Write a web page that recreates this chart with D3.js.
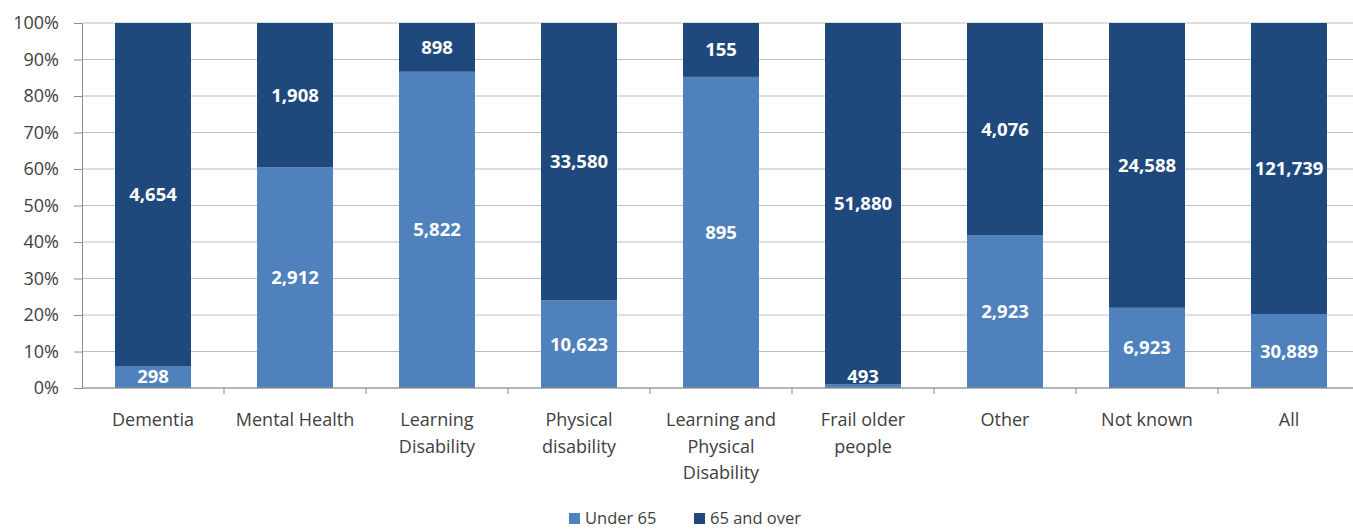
<!DOCTYPE html>
<html>
<head>
<meta charset="utf-8">
<script src="https://cdn.jsdelivr.net/npm/d3@7"></script>
<style>
  html, body { margin: 0; padding: 0; background: #ffffff; }
  svg { display: block; }
</style>
</head>
<body>
<svg id="chart" width="1353" height="530"></svg>
<script>
// Categories (line breaks mark wrapped axis labels)
const categories = [
  ["Dementia"],
  ["Mental Health"],
  ["Learning", "Disability"],
  ["Physical", "disability"],
  ["Learning and", "Physical", "Disability"],
  ["Frail older", "people"],
  ["Other"],
  ["Not known"],
  ["All"]
];
const under65 = [298, 2912, 5822, 10623, 895, 493, 2923, 6923, 30889];
const over65  = [4654, 1908, 898, 33580, 155, 51880, 4076, 24588, 121739];
const seriesNames = ["Under 65", "65 and over"];
const tickValues = [0, 0.1, 0.2, 0.3, 0.4, 0.5, 0.6, 0.7, 0.8, 0.9, 1.0];

const colors = ["#4F81BD", "#1F497D"];
const font = "'Open Sans', 'Liberation Sans', sans-serif";

const svg = d3.select("#chart");
const margin = { left: 82, right: 1360, top: 23, bottom: 388 };

const x = d3.scaleBand()
  .domain(d3.range(categories.length))
  .range([margin.left, margin.right])
  .paddingInner(0.465)
  .paddingOuter(0.2325);

const y = d3.scaleLinear().domain([0, 1]).range([margin.bottom, margin.top]);

// Horizontal gridlines
svg.append("g")
  .selectAll("line")
  .data(tickValues)
  .join("line")
  .attr("x1", margin.left)
  .attr("x2", margin.right)
  .attr("y1", d => y(d))
  .attr("y2", d => y(d))
  .attr("stroke", "#bdbdbd")
  .attr("stroke-width", 1);

// Y axis
const yAxis = svg.append("g")
  .attr("transform", `translate(${margin.left},0)`)
  .call(d3.axisLeft(y).tickValues(tickValues).tickFormat(d3.format(".0%")).tickSize(8).tickPadding(15));
yAxis.select(".domain").attr("stroke", "#8c8c8c");
yAxis.selectAll(".tick line").attr("stroke", "#8c8c8c");
yAxis.selectAll("text")
  .attr("fill", "#404040")
  .style("font-family", font)
  .style("font-size", "18px");

// Stacked shares
const rows = categories.map((c, i) => {
  const total = under65[i] + over65[i];
  return { i, vals: [under65[i], over65[i]], total };
});

const stackData = rows.map(r => {
  let acc = 0;
  return r.vals.map((v, s) => {
    const y0 = acc / r.total;
    acc += v;
    return { i: r.i, s, v, y0, y1: acc / r.total };
  });
}).flat();

svg.append("g")
  .selectAll("rect")
  .data(stackData)
  .join("rect")
  .attr("x", d => x(d.i))
  .attr("width", x.bandwidth())
  .attr("y", d => y(d.y1))
  .attr("height", d => y(d.y0) - y(d.y1))
  .attr("fill", d => colors[d.s]);

// X axis baseline and ticks between categories
svg.append("line")
  .attr("x1", margin.left).attr("x2", margin.right)
  .attr("y1", margin.bottom).attr("y2", margin.bottom)
  .attr("stroke", "#8c8c8c");
svg.append("g")
  .selectAll("line")
  .data(d3.range(categories.length))
  .join("line")
  .attr("x1", d => x(d) + x.bandwidth() + x.step() * x.paddingInner() / 2)
  .attr("x2", d => x(d) + x.bandwidth() + x.step() * x.paddingInner() / 2)
  .attr("y1", margin.bottom)
  .attr("y2", margin.bottom + 6)
  .attr("stroke", "#8c8c8c");

// Category labels
const catG = svg.append("g");
categories.forEach((lines, i) => {
  const t = catG.append("text")
    .attr("x", x(i) + x.bandwidth() / 2)
    .attr("y", 426)
    .attr("text-anchor", "middle")
    .attr("fill", "#404040")
    .style("font-family", font)
    .style("font-size", "18px");
  lines.forEach((ln, k) => {
    t.append("tspan")
      .attr("x", x(i) + x.bandwidth() / 2)
      .attr("dy", k === 0 ? 0 : 26.5)
      .text(ln);
  });
});

// Value labels centred in each segment, kept inside the plot
svg.append("g")
  .selectAll("text")
  .data(stackData)
  .join("text")
  .attr("x", d => x(d.i) + x.bandwidth() / 2)
  .attr("y", d => Math.min((y(d.y0) + y(d.y1)) / 2, margin.bottom - 11))
  .attr("dy", "0.35em")
  .attr("text-anchor", "middle")
  .attr("fill", "#ffffff")
  .style("font-family", font)
  .style("font-size", "18.5px")
  .style("font-weight", "bold")
  .text(d => d3.format(",")(d.v));

// Legend
const legend = svg.append("g").attr("transform", "translate(0,518)");
const legendX = [569, 694];
seriesNames.forEach((name, s) => {
  legend.append("rect")
    .attr("x", legendX[s]).attr("y", -5)
    .attr("width", 11).attr("height", 11)
    .attr("fill", colors[s]);
  legend.append("text")
    .attr("x", legendX[s] + 16).attr("y", 0)
    .attr("dy", "0.35em")
    .attr("fill", "#404040")
    .style("font-family", font)
    .style("font-size", "16.5px")
    .text(name);
});
</script>
</body>
</html>
